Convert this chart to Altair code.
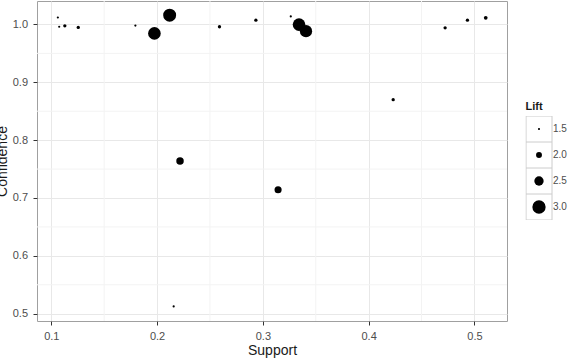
import altair as alt
import pandas as pd

support = [0.1062, 0.1075, 0.1128, 0.1255, 0.1795, 0.1975, 0.2119, 0.2157, 0.2217, 0.2590,
           0.2934, 0.3144, 0.3264, 0.3342, 0.3408, 0.4232, 0.4723, 0.4934, 0.5107]
confidence = [1.012, 0.996, 0.9976, 0.9948, 0.998, 0.9845, 1.016, 0.5126, 0.7638, 0.996,
              1.0074, 0.7143, 1.0138, 0.9997, 0.9884, 0.870, 0.9941, 1.0074, 1.0114]
lift = [1.45, 1.45, 1.6, 1.6, 1.5, 2.9, 2.95, 1.45, 2.2, 1.6,
        1.6, 2.15, 1.45, 2.9, 2.85, 1.6, 1.6, 1.6, 1.65]

x_major = [0.1, 0.2, 0.3, 0.4, 0.5]
x_minor = [0.15, 0.25, 0.35, 0.45]
y_major = [0.5, 0.6, 0.7, 0.8, 0.9, 1.0]
y_minor = [0.55, 0.65, 0.75, 0.85, 0.95]
lift_breaks = [1.5, 2.0, 2.5, 3.0]
lift_labels = ["1.5", "2.0", "2.5", "3.0"]

df = pd.DataFrame({"Support": support, "Confidence": confidence, "Lift": lift})
dfx = pd.DataFrame({"Support": x_minor})
dfy = pd.DataFrame({"Confidence": y_minor})

FONT = "Liberation Sans"
xs = alt.Scale(domain=[0.0865, 0.5308], nice=False, zero=False)
ys = alt.Scale(domain=[0.4874, 1.0405], nice=False, zero=False)
x_axis = alt.Axis(values=x_major, format=".1f", title="Support")
y_axis = alt.Axis(values=y_major, format=".1f", title="Confidence")

minor_x = alt.Chart(dfx).mark_rule(color="#f3f3f3", strokeWidth=1).encode(
    x=alt.X("Support:Q", scale=xs, axis=x_axis)
)

minor_y = alt.Chart(dfy).mark_rule(color="#f3f3f3", strokeWidth=1).encode(
    y=alt.Y("Confidence:Q", scale=ys, axis=y_axis)
)

pts = alt.Chart(df).mark_circle(color="black", opacity=1).encode(
    x=alt.X("Support:Q", scale=xs, axis=x_axis),
    y=alt.Y("Confidence:Q", scale=ys, axis=y_axis),
    size=alt.Size(
        "Lift:Q",
        scale=alt.Scale(domain=[1.0, 1.5, 2.0, 2.5, 3.0], range=[2, 5, 35, 87, 177]),
        legend=alt.Legend(
            values=lift_breaks, format=".1f", orient="none",
            legendX=494.5, legendY=115, clipHeight=26, rowPadding=0, padding=0,
            labelOffset=6.5, labelFontSize=10, labelColor="#4d4d4d", labelFont=FONT,
            title=None,
        ),
    ),
)

boxes = alt.Chart(pd.DataFrame({"k": lift_labels})).transform_filter("false").mark_point(
    shape="square", color="#cccccc", strokeWidth=1, opacity=1, filled=False
).encode(
    shape=alt.Shape(
        "k:N",
        scale=alt.Scale(domain=lift_labels, range=["square"] * 4),
        legend=alt.Legend(
            orient="none", legendX=488.5, legendY=100, clipHeight=26, rowPadding=0,
            padding=0, symbolSize=676, symbolStrokeWidth=1, labelExpr="''",
            title="Lift", titleFontSize=11, titleFontWeight="bold", titlePadding=4,
            titleColor="#1a1a1a", titleFont=FONT,
        ),
    )
)

chart = alt.layer(minor_x, minor_y, pts, boxes).properties(
    width=470, height=320,
    autosize=alt.AutoSizeParams(type="none"),
    padding={"left": 37, "top": 1, "right": 69, "bottom": 37},
).configure_axis(
    domain=False, grid=True, gridColor="#e8e8e8", gridWidth=1,
    tickColor="#333333", tickSize=4, tickWidth=1,
    labelColor="#4d4d4d", labelFont=FONT, labelFontSize=11,
    titleFont=FONT, titleFontSize=14, titleFontWeight="normal", titleColor="#1a1a1a",
).configure_axisX(labelPadding=5, titlePadding=2).configure_axisY(
    labelPadding=5.5, titlePadding=3
).configure_view(stroke="#a0a0a0", strokeWidth=1)

chart.save("out.html", embed_options={"renderer": "svg", "actions": False})
